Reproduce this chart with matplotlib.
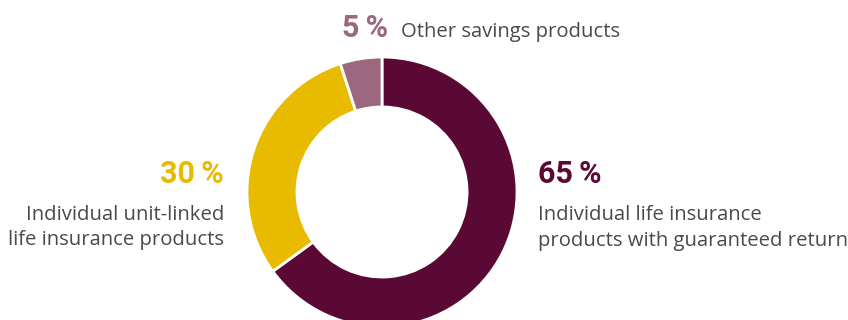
import matplotlib.pyplot as plt

shares = [65, 30, 5]
pct_labels = ['65\u2009%', '30\u2009%', '5\u2009%']
names = [['Individual life insurance', 'products with guaranteed return'],
         ['Individual unit-linked', 'life insurance products'],
         ['Other savings products']]
colors = ['#5a0834', '#e9bb00', '#9b6880']
text_gray = '#4a4a4a'

W, H = 848, 320
fig = plt.figure(figsize=(W / 100, H / 100), dpi=100)

# donut: centre (382, 192) px, outer radius 135 px
cx, cy, r = 382, 192, 135
ax = fig.add_axes([(cx - r) / W, (H - cy - r) / H, 2 * r / W, 2 * r / H])
ax.pie(shares, colors=colors, startangle=90, counterclock=False,
       wedgeprops=dict(width=0.37, edgecolor='white', linewidth=2))
ax.set_xlim(-1, 1)
ax.set_ylim(-1, 1)
ax.set_aspect('equal')
ax.axis('off')


def px(x, y):
    return x / W, 1 - y / H


big = dict(fontsize=22, fontweight='bold', family=['Roboto', 'DejaVu Sans'],
           va='baseline')
small = dict(fontsize=14.6, family='Open Sans', color=text_gray, va='baseline')


def block(x, ha, lines, first_y, step=26):
    for i, line in enumerate(lines):
        fig.text(*px(x, first_y + i * step), line, ha=ha, **small)


# right (65 %)
fig.text(*px(538, 183), pct_labels[0], color=colors[0], ha='left', **big)
block(538, 'left', names[0], 220)
# left (30 %)
fig.text(*px(224, 183), pct_labels[1], color=colors[1], ha='right', **big)
block(224, 'right', names[1], 220, 25)
# top (5 %)
fig.text(*px(342, 37), pct_labels[2], color=colors[2], ha='left', **big)
block(401, 'left', names[2], 37)

fig.savefig('out.png', dpi=100)
